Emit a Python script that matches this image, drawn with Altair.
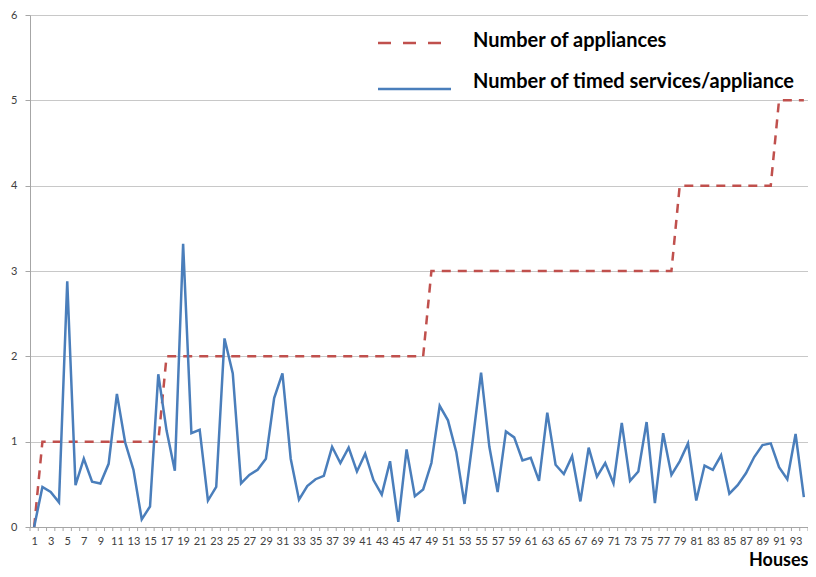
import altair as alt
import pandas as pd

houses = list(range(1, 95))

appliances = [0,
              1, 1, 1, 1, 1, 1, 1, 1, 1, 1, 1, 1, 1, 1, 1,
              2, 2, 2, 2, 2, 2, 2, 2, 2, 2, 2, 2, 2, 2, 2, 2,
              2, 2, 2, 2, 2, 2, 2, 2, 2, 2, 2, 2, 2, 2, 2, 2,
              3, 3, 3, 3, 3, 3, 3, 3, 3, 3, 3, 3, 3, 3, 3,
              3, 3, 3, 3, 3, 3, 3, 3, 3, 3, 3, 3, 3, 3, 3,
              4, 4, 4, 4, 4, 4, 4, 4, 4, 4, 4, 4,
              5, 5, 5, 5]

timed = [0.00, 0.47, 0.41, 0.29, 2.88, 0.49, 0.80, 0.53, 0.51, 0.74,
         1.56, 0.99, 0.67, 0.09, 0.24, 1.79, 1.13, 0.66, 3.32, 1.10,
         1.14, 0.31, 0.47, 2.21, 1.80, 0.51, 0.61, 0.67, 0.80, 1.51,
         1.80, 0.80, 0.32, 0.48, 0.56, 0.60, 0.94, 0.75, 0.93, 0.65,
         0.86, 0.55, 0.38, 0.77, 0.06, 0.91, 0.36, 0.44, 0.75, 1.42,
         1.25, 0.88, 0.27, 1.02, 1.81, 0.94, 0.41, 1.12, 1.05, 0.78,
         0.81, 0.54, 1.34, 0.73, 0.62, 0.83, 0.30, 0.93, 0.59, 0.75,
         0.51, 1.22, 0.54, 0.65, 1.23, 0.28, 1.10, 0.61, 0.77, 0.98,
         0.31, 0.72, 0.67, 0.84, 0.39, 0.49, 0.63, 0.82, 0.96, 0.98,
         0.70, 0.56, 1.09, 0.35]

series_names = ["Number of appliances", "Number of timed services/appliance"]
x_labels = [h for h in houses if h % 2 == 1]
y_ticks = [0, 1, 2, 3, 4, 5, 6]

RED = "#C0504D"
BLUE = "#4A7EBB"
FONT = "Lato"

df = pd.DataFrame({"house": houses, "appliances": appliances, "timed": timed})
bounds = pd.DataFrame({"b": [h - 0.5 for h in houses] + [houses[-1] + 0.5]})

W, H = 778, 512

xscale = alt.Scale(domain=[houses[0] - 0.5, houses[-1] + 0.5], nice=False, zero=False)
yscale = alt.Scale(domain=[0, 6], nice=False)

xaxis = alt.Axis(values=x_labels, format="d", tickSize=0, labelPadding=8,
                 labelFontSize=11, labelColor="#404040", labelFont=FONT,
                 domainColor="#a6a6a6", domainWidth=1, grid=False,
                 labelFlush=False, labelOverlap=False, labelBound=False,
                 title="Houses", titleFont=FONT, titleFontSize=18, titleFontWeight="bold",
                 titleColor="#000000", titleAlign="right", titleAnchor="end",
                 titleX=W, titleY=38, titleBaseline="alphabetic")
yaxis = alt.Axis(values=y_ticks, format="d", tickSize=5, tickColor="#a6a6a6",
                 labelPadding=8, labelFontSize=11, labelColor="#404040", labelFont=FONT,
                 domainColor="#a6a6a6", gridColor="#c8c8c8", gridWidth=1, title=None)

red_line = alt.Chart(df).mark_line(color=RED, strokeDash=[9, 7], strokeWidth=2.5).encode(
    x=alt.X("house:Q", scale=xscale, axis=xaxis),
    y=alt.Y("appliances:Q", scale=yscale, axis=yaxis),
)
blue_line = alt.Chart(df).mark_line(color=BLUE, strokeWidth=2.5).encode(
    x=alt.X("house:Q", scale=xscale, axis=xaxis),
    y=alt.Y("timed:Q", scale=yscale, axis=yaxis),
)
ticks = alt.Chart(bounds).mark_rule(color="#a6a6a6", strokeWidth=1).encode(
    x=alt.X("b:Q", scale=xscale, axis=xaxis),
    y=alt.value(H),
    y2=alt.value(H + 4),
)

leg_red = alt.Chart(pd.DataFrame({"s": [series_names[0]]})).mark_rule(
    color=RED, strokeDash=[13, 12], strokeWidth=2.5).encode(
    x=alt.value(348), x2=alt.value(413), y=alt.value(28))
leg_blue = alt.Chart(pd.DataFrame({"s": [series_names[1]]})).mark_rule(
    color=BLUE, strokeWidth=2.5).encode(
    x=alt.value(348), x2=alt.value(421), y=alt.value(74))
leg_text = alt.Chart(pd.DataFrame({"s": series_names, "yy": [26, 67]})).mark_text(
    align="left", baseline="middle", font=FONT, fontSize=20, fontWeight="bold",
    color="#000000").encode(
    x=alt.value(443), y=alt.Y("yy:Q", scale=None),
    text="s:N")

chart = alt.layer(red_line, blue_line, ticks, leg_red, leg_blue, leg_text).properties(
    width=W, height=H,
    autosize=alt.AutoSizeParams(type="none"),
    padding={"left": 22, "top": 7, "right": 0, "bottom": 42},
).configure_view(stroke=None).configure(background="white")

chart.save("out.html", embed_options={"renderer": "svg", "actions": False})
